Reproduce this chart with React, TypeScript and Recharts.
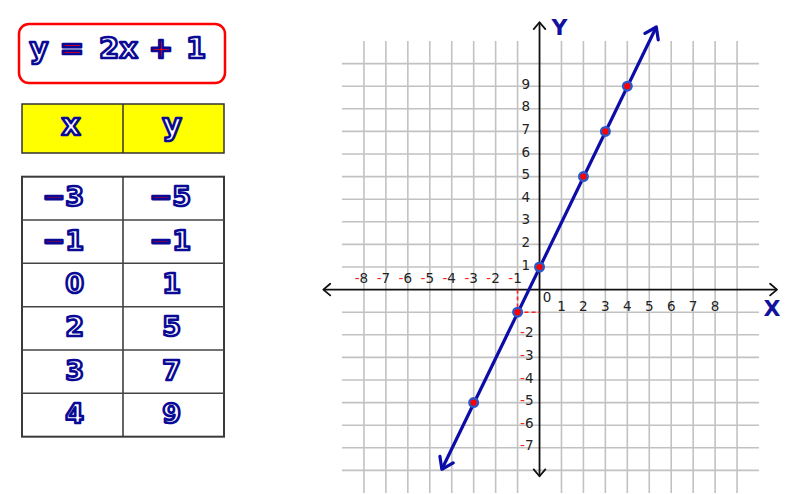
import { ScatterChart, Scatter, XAxis, YAxis, ReferenceLine } from 'recharts';

// table values (the plotted points are the same pairs)
const tableX = [-3, -1, 0, 2, 3, 4];
const tableY = [-5, -1, 1, 5, 7, 9];

const gridX = [-8, -7, -6, -5, -4, -3, -2, -1, 1, 2, 3, 4, 5, 6, 7, 8, 9];
const gridY = [-8, -7, -6, -5, -4, -3, -2, -1, 1, 2, 3, 4, 5, 6, 7, 8, 9, 10];
const xTickLabels = [-8, -7, -6, -5, -4, -3, -2, -1, 0, 1, 2, 3, 4, 5, 6, 7, 8];
const yTickLabels = [-7, -6, -5, -4, -3, -2, 1, 2, 3, 4, 5, 6, 7, 8, 9];

// ends of the drawn line y = 2x + 1 (arrow tips)
const lineStart = { x: -4.45, y: -7.95 };
const lineEnd = { x: 5.32, y: 11.62 };
const xAxisEnds = [-9.85, 10.82];
const yAxisEnds = [-8.26, 11.83];
const guidePoint = { x: -1, y: -1 };

const BLUE = '#0c0ca6';
const INK = '#0a0a96';
const GRID = '#c2c2c2';

const points = tableX.map((x, i) => ({ x, y: tableY[i] }));
const xLabelData = xTickLabels.map((v) => ({ x: v, y: 0 }));
const yLabelData = yTickLabels.map((v) => ({ x: 0, y: v }));

const wing = (x: number, y: number, dir: number, len: number, spread: number) =>
	`M${x - len * Math.cos(dir - spread)},${y - len * Math.sin(dir - spread)} L${x},${y} L${
		x - len * Math.cos(dir + spread)
	},${y - len * Math.sin(dir + spread)} `;

const arrowShape =
	(color: string, width: number, len: number, spread: number, label?: string, dx = 0, dy = 0) =>
	(p: any) => {
		const { x1, y1, x2, y2 } = p;
		const a = Math.atan2(y2 - y1, x2 - x1);
		return (
			<g>
				<line x1={x1} y1={y1} x2={x2} y2={y2} stroke={color} strokeWidth={width} />
				<path
					d={wing(x2, y2, a, len, spread) + wing(x1, y1, a + Math.PI, len, spread)}
					fill='none'
					stroke={color}
					strokeWidth={width}
					strokeLinecap='round'
					strokeLinejoin='round'
				/>
				{label && (
					<text
						x={x2 + dx}
						y={y2 + dy}
						textAnchor='middle'
						fontFamily='DejaVu Sans'
						fontWeight={700}
						fontSize={22}
						fill='#1212a0'
					>
						{label}
					</text>
				)}
			</g>
		);
	};

const tickText = { fontFamily: 'DejaVu Sans', fontSize: 13.5, fill: '#222' };

const XTick = (p: any) => {
	const { cx, cy, payload } = p;
	const v = payload.x;
	if (v < 0)
		return (
			<text x={cx + 4.2} y={cy - 6.7} textAnchor='end' {...tickText}>
				<tspan fill='#ff2020'>-</tspan>
				<tspan>{-v}</tspan>
			</text>
		);
	if (v === 0)
		return (
			<text x={cx + 7.5} y={cy + 12.7} textAnchor='middle' {...tickText}>
				0
			</text>
		);
	return (
		<text x={cx} y={cy + 21} textAnchor='middle' {...tickText}>
			{v}
		</text>
	);
};

const YTick = (p: any) => {
	const { cx, cy, payload } = p;
	const v = payload.y;
	if (v < 0)
		return (
			<text x={cx - 6} y={cy + 2.5} textAnchor='end' {...tickText}>
				<tspan fill='#ff2020'>-</tspan>
				<tspan>{-v}</tspan>
			</text>
		);
	return (
		<text x={cx - 9.5} y={cy + 2.5} textAnchor='end' {...tickText}>
			{v}
		</text>
	);
};

const Dot = (p: any) => (
	<circle cx={p.cx} cy={p.cy} r={4.3} fill='#ff0000' stroke='#2a58c8' strokeWidth={2.4} />
);

const outline = {
	fill: '#ffffff',
	stroke: INK,
	strokeWidth: 2.6,
	strokeLinejoin: 'round' as const,
	fontFamily: 'DejaVu Sans',
	fontWeight: 700
};

const titleParts: [string, number, boolean][] = [
	['y', 39, false],
	['=', 72, true],
	['2x', 118.5, false],
	['+', 161, true],
	['1', 196, false]
];

const fmt = (v: number) =>
	v < 0 ? (
		<>
			<tspan fill='#e00000'>−</tspan>
			{-v}
		</>
	) : (
		String(v)
	);

const TableSide = () => {
	const left = 22;
	const mid = 123;
	const right = 224;
	const top = 176.7;
	const rowH = 43.33;
	return (
		<svg width={260} height={494} style={{ position: 'absolute', left: 0, top: 0 }}>
			<rect x={19} y={24} width={206} height={59} rx={10} fill='#fff' stroke='#ff0000' strokeWidth={2.5} />
			{titleParts.map(([t, cx, red]) => (
				<text key={t} x={cx} y={57.5} textAnchor='middle' fontSize={29} {...outline} fill={red ? '#ff0000' : '#fff'}>
					{t}
				</text>
			))}
			<rect x={left} y={104} width={right - left} height={49} fill='#ffff00' stroke='#333' strokeWidth={1.5} />
			<line x1={mid} y1={104} x2={mid} y2={153} stroke='#333' strokeWidth={1.5} />
			<text x={71} y={135} textAnchor='middle' fontSize={30} {...outline}>
				x
			</text>
			<text x={172} y={135} textAnchor='middle' fontSize={30} {...outline}>
				y
			</text>
			<rect x={left} y={top} width={right - left} height={rowH * tableX.length} fill='#fff' stroke='#3a3a3a' strokeWidth={2} />
			<line x1={mid} y1={top} x2={mid} y2={top + rowH * tableX.length} stroke='#333' strokeWidth={1.5} />
			{tableX.map((xv, i) => {
				const yv = tableY[i];
				const ry = top + i * rowH;
				return (
					<g key={i}>
						{i > 0 && <line x1={left} y1={ry} x2={right} y2={ry} stroke='#444' strokeWidth={1.5} />}
						<text x={84} y={ry + 29.5} textAnchor='end' fontSize={27} {...outline}>
							{fmt(xv)}
						</text>
						<text x={yv < 0 ? 191 : 181} y={ry + 29.5} textAnchor='end' fontSize={27} {...outline}>
							{fmt(yv)}
						</text>
					</g>
				);
			})}
		</svg>
	);
};

export default function App() {
	return (
		<div style={{ position: 'absolute', left: 0, top: 0, width: 793, height: 494, background: '#fff' }}>
			<div style={{ position: 'absolute', left: 0, top: 0 }}>
				<ScatterChart width={793} height={494} margin={{ top: 41, right: 34, bottom: 1, left: 342 }}>
					<XAxis hide type='number' dataKey='x' domain={[-9, 10]} allowDataOverflow />
					<YAxis hide type='number' dataKey='y' domain={[-9, 11]} allowDataOverflow />
					{gridX.map((v) => (
						<ReferenceLine key={'gx' + v} x={v} stroke={GRID} strokeWidth={1.6} ifOverflow='visible' />
					))}
					{gridY.map((v) => (
						<ReferenceLine key={'gy' + v} y={v} stroke={GRID} strokeWidth={1.6} ifOverflow='visible' />
					))}
					<ReferenceLine
						segment={[
							{ x: xAxisEnds[0], y: 0 },
							{ x: xAxisEnds[1], y: 0 }
						]}
						ifOverflow='visible'
						shape={arrowShape('#111', 1.8, 9, 0.7, 'X', -5, 26)}
					/>
					<ReferenceLine
						segment={[
							{ x: 0, y: yAxisEnds[0] },
							{ x: 0, y: yAxisEnds[1] }
						]}
						ifOverflow='visible'
						shape={arrowShape('#111', 1.8, 9, 0.7, 'Y', 20, 12.3)}
					/>
					<ReferenceLine
						segment={[
							{ x: guidePoint.x, y: 0 },
							{ x: guidePoint.x, y: guidePoint.y }
						]}
						stroke='#ff2020'
						strokeWidth={1.6}
						strokeDasharray='4 3'
						ifOverflow='visible'
					/>
					<ReferenceLine
						segment={[
							{ x: guidePoint.x, y: guidePoint.y },
							{ x: 0, y: guidePoint.y }
						]}
						stroke='#ff2020'
						strokeWidth={1.6}
						strokeDasharray='4 3'
						ifOverflow='visible'
					/>
					<Scatter data={xLabelData} shape={XTick} isAnimationActive={false} />
					<Scatter data={yLabelData} shape={YTick} isAnimationActive={false} />
					<ReferenceLine
						segment={[lineStart, lineEnd]}
						ifOverflow='visible'
						shape={arrowShape(BLUE, 3.2, 13, 0.6)}
					/>
					<Scatter data={points} shape={Dot} isAnimationActive={false} />
				</ScatterChart>
			</div>
			<TableSide />
		</div>
	);
}
